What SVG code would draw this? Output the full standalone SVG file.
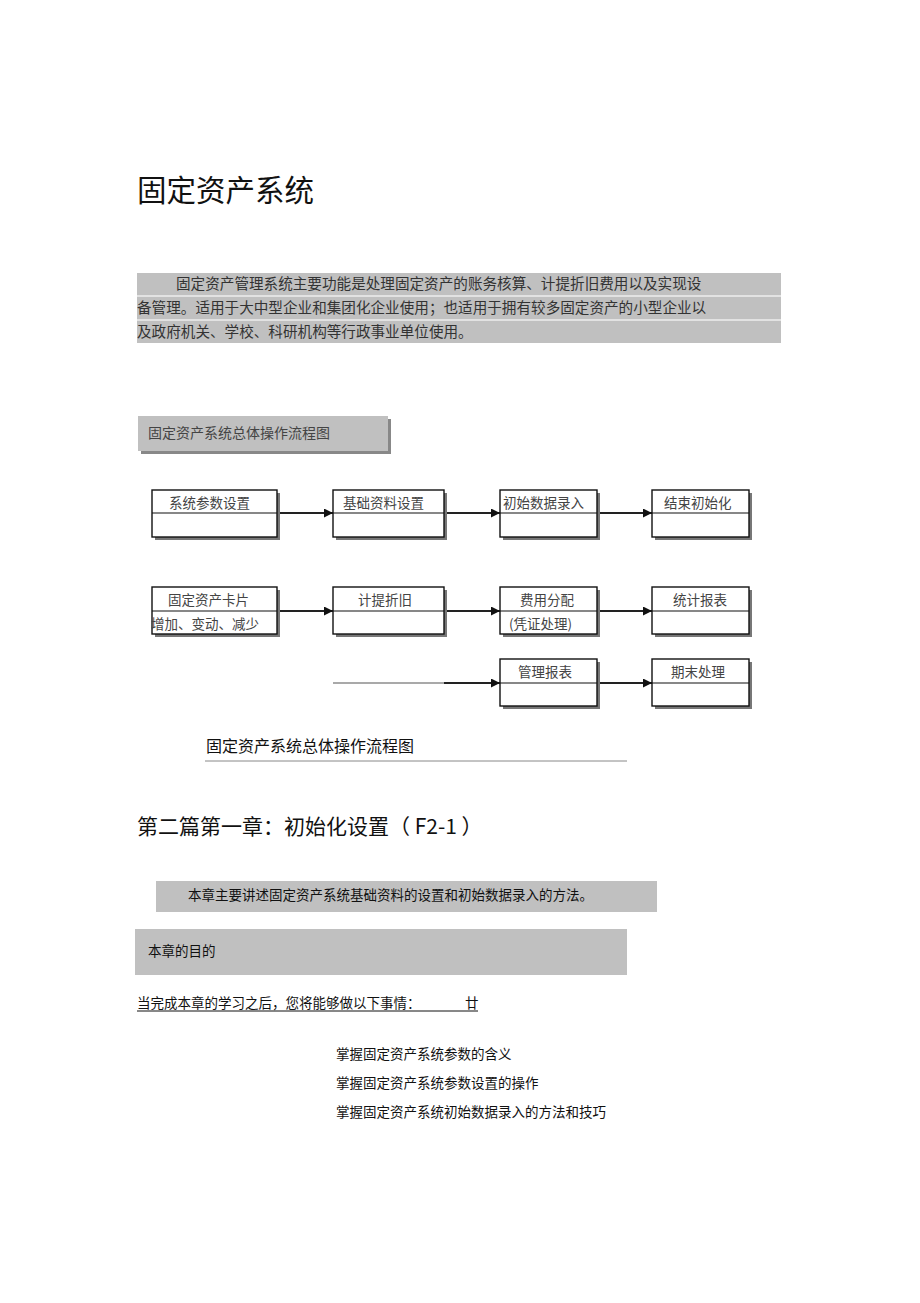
<svg xmlns="http://www.w3.org/2000/svg" width="920" height="1303" viewBox="0 0 920 1303">
<style>
.cjk{font-family:"Noto Sans CJK SC","Noto Sans",sans-serif;}
.para{font-size:14.6px;fill:#333;}
.bt{font-size:13.5px;fill:#444;}
.box{fill:#fff;stroke:#111;stroke-width:1.4;}
.shd{fill:#777;}
.div{stroke:#111;stroke-width:1.2;}
.con{stroke:#222;stroke-width:1.8;fill:none;}
.body{font-size:13.5px;fill:#111;}
</style>
<defs>
<marker id="ah" viewBox="0 0 10 10" refX="10" refY="5" markerWidth="9" markerHeight="9" markerUnits="userSpaceOnUse" orient="auto">
<path d="M0,0 L10,5 L0,10 z" fill="#111"/>
</marker>
</defs>
<rect width="920" height="1303" fill="#fff"/>

<text class="cjk" x="137" y="201" font-size="29.5" fill="#111">固定资产系统</text>

<g id="intro">
<rect x="137" y="273" width="644" height="70" fill="#c0c0c0"/>
<line x1="137" y1="296" x2="781" y2="296" stroke="#eee" stroke-width="1.5"/>
<line x1="137" y1="320" x2="781" y2="320" stroke="#eee" stroke-width="1.5"/>
<text class="cjk para" x="176" y="289">固定资产管理系统主要功能是处理固定资产的账务核算、计提折旧费用以及实现设</text>
<text class="cjk para" x="137" y="313">备管理。适用于大中型企业和集团化企业使用；也适用于拥有较多固定资产的小型企业以</text>
<text class="cjk para" x="137" y="337">及政府机关、学校、科研机构等行政事业单位使用。</text>
</g>

<g id="flow-title">
<rect x="141" y="419" width="250" height="35" fill="#888"/>
<rect x="138" y="416" width="250" height="35" fill="#c0c0c0"/>
<text class="cjk" x="148" y="438" font-size="14" fill="#444">固定资产系统总体操作流程图</text>
</g>

<g id="connectors">
<line class="con" x1="277" y1="513" x2="333" y2="513" marker-end="url(#ah)"/>
<line class="con" x1="444" y1="513" x2="500" y2="513" marker-end="url(#ah)"/>
<line class="con" x1="597" y1="513" x2="652" y2="513" marker-end="url(#ah)"/>
<line class="con" x1="277" y1="611" x2="333" y2="611" marker-end="url(#ah)"/>
<line class="con" x1="444" y1="611" x2="500" y2="611" marker-end="url(#ah)"/>
<line class="con" x1="597" y1="611" x2="652" y2="611" marker-end="url(#ah)"/>
<line x1="333" y1="683" x2="444" y2="683" stroke="#555" stroke-width="1.2"/>
<line class="con" x1="444" y1="683" x2="500" y2="683" marker-end="url(#ah)"/>
<line class="con" x1="597" y1="683" x2="652" y2="683" marker-end="url(#ah)"/>
</g>

<g id="n-xtcs">
<rect class="shd" x="155" y="493" width="125" height="47"/>
<rect class="box" x="152" y="490" width="125" height="47"/>
<line class="div" x1="152" y1="513" x2="277" y2="513"/>
<text class="cjk bt" x="169" y="508">系统参数设置</text>
</g>
<g id="n-jczl">
<rect class="shd" x="336" y="493" width="111" height="47"/>
<rect class="box" x="333" y="490" width="111" height="47"/>
<line class="div" x1="333" y1="513" x2="444" y2="513"/>
<text class="cjk bt" x="343" y="508">基础资料设置</text>
</g>
<g id="n-csdr">
<rect class="shd" x="503" y="493" width="97" height="47"/>
<rect class="box" x="500" y="490" width="97" height="47"/>
<line class="div" x1="500" y1="513" x2="597" y2="513"/>
<text class="cjk bt" x="503" y="508">初始数据录入</text>
</g>
<g id="n-jscsh">
<rect class="shd" x="655" y="493" width="97" height="47"/>
<rect class="box" x="652" y="490" width="97" height="47"/>
<line class="div" x1="652" y1="513" x2="749" y2="513"/>
<text class="cjk bt" x="664" y="508">结束初始化</text>
</g>

<g id="n-kp">
<rect class="shd" x="155" y="590" width="125" height="47"/>
<rect class="box" x="152" y="587" width="125" height="47"/>
<line class="div" x1="152" y1="611" x2="277" y2="611"/>
<text class="cjk bt" x="168" y="605">固定资产卡片</text>
<text class="cjk bt" x="151" y="629">增加、变动、减少</text>
</g>
<g id="n-jtzj">
<rect class="shd" x="336" y="590" width="111" height="47"/>
<rect class="box" x="333" y="587" width="111" height="47"/>
<line class="div" x1="333" y1="611" x2="444" y2="611"/>
<text class="cjk bt" x="358" y="605">计提折旧</text>
</g>
<g id="n-fyfp">
<rect class="shd" x="503" y="590" width="97" height="47"/>
<rect class="box" x="500" y="587" width="97" height="47"/>
<line class="div" x1="500" y1="611" x2="597" y2="611"/>
<text class="cjk bt" x="520" y="605">费用分配</text>
<text class="cjk bt" x="509" y="629">(凭证处理)</text>
</g>
<g id="n-tjbb">
<rect class="shd" x="655" y="590" width="97" height="47"/>
<rect class="box" x="652" y="587" width="97" height="47"/>
<line class="div" x1="652" y1="611" x2="749" y2="611"/>
<text class="cjk bt" x="673" y="605">统计报表</text>
</g>

<g id="n-glbb">
<rect class="shd" x="503" y="662" width="97" height="47"/>
<rect class="box" x="500" y="659" width="97" height="47"/>
<line class="div" x1="500" y1="683" x2="597" y2="683"/>
<text class="cjk bt" x="518" y="677">管理报表</text>
</g>
<g id="n-qmcl">
<rect class="shd" x="655" y="662" width="97" height="47"/>
<rect class="box" x="652" y="659" width="97" height="47"/>
<line class="div" x1="652" y1="683" x2="749" y2="683"/>
<text class="cjk bt" x="671" y="677">期末处理</text>
</g>

<g id="caption">
<text class="cjk" x="206" y="752" font-size="16" fill="#111">固定资产系统总体操作流程图</text>
<line x1="205" y1="761" x2="627" y2="761" stroke="#888" stroke-width="1"/>
</g>

<text class="cjk" x="137" y="834" font-size="21" fill="#111">第二篇第一章：初始化设置（ F2-1 ）</text>

<g id="summary">
<rect x="156" y="881" width="501" height="31" fill="#c0c0c0"/>
<text class="cjk body" x="188" y="900">本章主要讲述固定资产系统基础资料的设置和初始数据录入的方法。</text>
</g>
<g id="goal">
<rect x="135" y="929" width="492" height="46" fill="#c0c0c0"/>
<text class="cjk body" x="148" y="956">本章的目的</text>
</g>

<text class="cjk body" x="137" y="1008">当完成本章的学习之后，您将能够做以下事情：</text>
<text class="cjk body" x="465" y="1008">廿</text>
<line x1="137" y1="1011" x2="478" y2="1011" stroke="#111" stroke-width="1"/>

<text class="cjk body" x="336" y="1059">掌握固定资产系统参数的含义</text>
<text class="cjk body" x="336" y="1088">掌握固定资产系统参数设置的操作</text>
<text class="cjk body" x="336" y="1117">掌握固定资产系统初始数据录入的方法和技巧</text>
</svg>
